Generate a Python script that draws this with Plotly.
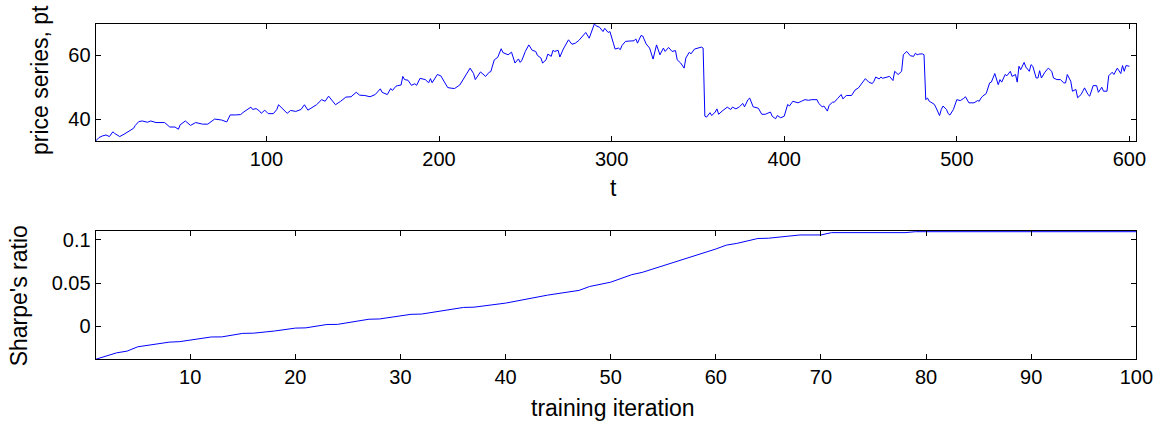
import plotly.graph_objects as go

# ---- data: price series (top panel) ----
t = [1, 3, 5, 7, 9, 11, 12, 15, 18, 20, 22, 23, 24, 26, 28, 31, 33, 36, 41, 44, 47, 49, 50, 53, 56, 59, 63, 66, 70, 71, 74, 77, 79, 82, 85, 87,
     88, 91, 92, 94, 96, 97, 99, 101, 104, 106, 107, 109, 112, 114, 117, 120, 122, 124, 126, 129, 132, 134, 136, 140, 143, 146, 149, 152, 154, 157, 160, 163, 166, 167, 170, 172,
     173, 175, 176, 178, 179, 180, 182, 184, 186, 187, 189, 192, 194, 195, 196, 199, 201, 203, 205, 207, 209, 212, 214, 216, 218, 220, 221, 224, 227, 229, 230, 232, 234, 236, 237, 240, 242, 244, 246, 247, 248, 250, 252, 254, 256, 257,
     259, 260, 262, 263, 265, 266, 267, 269, 270, 272, 275, 277, 279, 281, 283, 285, 287, 290, 291, 293, 295, 296, 298, 299, 301, 302, 304, 305, 306, 308, 310, 313, 314, 315, 317, 318, 320, 322, 324, 326, 328, 330, 331, 333, 335, 337, 338, 340, 342, 343,
     345, 346, 348, 350, 352, 353, 354, 355, 357, 358, 360, 361, 362, 364, 365, 367, 369, 370, 372, 374, 376, 377, 379, 380, 382, 385, 387, 389, 392, 393, 395, 396, 398, 400, 402, 403, 405, 407, 408, 410, 412, 414, 416, 419, 420, 422, 423, 425, 426, 428,
     429, 431, 433, 434, 436, 439, 441, 443, 445, 447, 449, 451, 452, 453, 455, 456, 457, 459, 461, 463, 464, 466, 468, 469, 471, 473, 475, 476, 477, 478, 480, 481, 482, 483, 484, 485, 487, 488, 490, 491, 492, 494, 495, 496, 498, 500, 502, 504, 505, 507, 510, 512, 513, 514,
     515, 517, 519, 520, 522, 524, 525, 526, 528, 529, 531, 532, 534, 535, 536, 537, 539, 540, 542, 543, 544, 546, 547, 548, 549, 551, 553, 555, 556, 558, 560, 562, 563, 564, 566, 567, 569, 570, 572, 573, 574, 576, 577, 579, 581, 582, 584, 585, 587, 588, 590, 591, 593, 595, 596, 597, 598, 600]
price = [33.1, 34.2, 34.7, 35.0, 34.5, 36.0, 35.5, 34.5, 35.4, 36.1, 36.8, 37.1, 38.0, 39.2, 39.4, 39.0, 39.4, 38.9, 38.9, 37.5, 37.5, 36.8, 38.2, 39.4, 38.0, 38.9, 38.4, 38.4, 40.0, 39.9, 39.7, 39.1, 41.3, 41.3, 41.4, 42.3,
         42.6, 43.75, 43.0, 43.3, 42.5, 41.8, 42.8, 41.7, 41.7, 43.0, 44.5, 43.4, 41.8, 42.7, 42.4, 43.0, 44.5, 42.8, 43.4, 44.5, 46.1, 45.6, 47.2, 44.5, 45.6, 46.9, 47.0, 48.4, 47.5, 47.4, 47.0, 47.7, 49.5, 48.4, 47.7, 49.6,
         49.0, 50.3, 50.5, 50.7, 53.4, 52.4, 52.2, 50.6, 51.1, 50.6, 52.8, 52.4, 51.4, 52.7, 51.4, 54.0, 53.6, 51.9, 49.9, 49.7, 49.6, 50.7, 52.4, 54.5, 56.0, 54.3, 52.4, 54.8, 53.4, 54.7, 54.9, 58.6, 59.4, 62.1, 60.9, 60.2, 61.0, 57.6, 58.9, 57.8, 58.5, 61.25, 63.3, 61.6, 61.25, 60.0,
         59.2, 57.6, 58.6, 60.4, 59.7, 61.6, 61.25, 61.6, 59.5, 62.0, 64.9, 63.5, 63.85, 64.7, 66.1, 67.2, 65.4, 69.9, 69.3, 68.85, 67.5, 68.5, 67.2, 67.5, 63.85, 62.0, 62.3, 61.8, 63.1, 64.4, 64.5, 64.6, 65.2, 63.85, 66.25, 66.1, 63.6, 62.3, 58.85, 63.3, 60.2, 62.3, 61.25, 62.5, 61.25, 61.5, 58.6, 57.6, 56.0, 59.2,
         61.0, 60.5, 62.0, 62.3, 62.6, 62.3, 40.9, 40.6, 42.0, 41.1, 42.2, 43.2, 41.5, 42.5, 43.0, 43.75, 43.0, 43.75, 43.2, 43.85, 44.9, 43.85, 46.1, 46.6, 43.85, 43.4, 41.5, 41.5, 42.2, 40.9, 40.1, 41.1, 40.4, 40.9, 44.6, 44.1, 45.6, 45.1, 45.1, 45.6, 46.1, 45.9, 46.1, 46.1, 44.9, 43.85, 44.1, 42.5, 44.3, 45.3,
         45.3, 46.5, 47.7, 46.35, 47.4, 47.4, 49.1, 49.8, 51.35, 52.7, 51.6, 51.15, 51.9, 53.2, 52.6, 53.2, 52.8, 53.2, 53.4, 52.1, 55.0, 54.0, 55.0, 60.2, 61.25, 59.9, 59.7, 60.7, 60.2, 60.4, 60.5, 60.2, 46.1, 46.6, 45.6, 45.3, 44.6, 43.5, 41.1, 43.0, 44.1, 43.0, 41.7, 41.25, 43.0, 46.1, 45.8, 46.5, 47.0, 45.1, 45.1, 45.8, 45.6, 46.6,
         47.2, 48.0, 51.35, 51.6, 54.3, 50.8, 52.4, 51.6, 54.0, 53.6, 55.0, 53.4, 54.0, 51.6, 56.6, 55.5, 57.8, 56.35, 55.0, 57.1, 56.6, 52.9, 52.9, 55.2, 52.9, 54.7, 56.0, 55.0, 52.9, 52.4, 52.4, 51.35, 51.35, 54.0, 51.9, 48.75, 49.3, 46.7, 47.7, 48.75, 49.8, 47.7, 47.2, 50.5, 50.5, 48.4, 50.0, 48.75, 48.75, 53.6, 54.7, 54.0, 56.0, 54.3, 56.8, 55.0, 56.8, 56.6]

# ---- data: Sharpe's ratio per training iteration (bottom panel) ----
iteration = [1, 3, 4, 5, 8, 9, 12, 13, 15, 16, 18, 20, 21, 23, 24, 27, 28, 31, 32, 36, 37, 40, 44, 46, 47, 48, 50, 52, 53, 60, 61, 62, 64, 65, 67, 68, 70, 71, 78, 79, 100]
sharpe = [-0.0385, -0.031, -0.029, -0.024, -0.0186, -0.018, -0.0126, -0.0125, -0.0084, -0.0082, -0.0057, -0.0023, -0.002, 0.0019, 0.002,
          0.008, 0.0083, 0.0137, 0.014, 0.0217, 0.022, 0.0267, 0.036, 0.040, 0.0415, 0.046, 0.051, 0.0597, 0.0624, 0.0895, 0.094, 0.096,
          0.1017, 0.102, 0.1043, 0.1058, 0.1058, 0.1085, 0.1085, 0.1096, 0.1096]

top_xticks = [100, 200, 300, 400, 500, 600]
top_yticks = [40, 60]
bot_xticks = [10, 20, 30, 40, 50, 60, 70, 80, 90, 100]
bot_yticks = [0, 0.05, 0.1]
bot_yticktext = ["0", "0.05", "0.1"]

W, H = 1175, 423
FONT = "Arial, Liberation Sans, Helvetica, sans-serif"

fig = go.Figure()
fig.add_trace(go.Scatter(x=t, y=price, mode="lines", line=dict(color="#0000ff", width=1),
                         xaxis="x", yaxis="y", showlegend=False))
fig.add_trace(go.Scatter(x=iteration, y=sharpe, mode="lines", line=dict(color="#0000ff", width=1),
                         xaxis="x2", yaxis="y2", showlegend=False))

def px_x(p):
    return p / W

def px_y(p):
    return 1 - p / H

axis_common = dict(showline=True, linecolor="black", linewidth=1, mirror="ticks", ticks="inside",
                   ticklen=5, tickcolor="black", showgrid=False, zeroline=False,
                   tickfont=dict(family=FONT, size=20, color="black"))

xdom = [px_x(97), px_x(1153)]
fig.update_layout(
    width=W, height=H, autosize=False, margin=dict(l=0, r=0, t=0, b=0),
    paper_bgcolor="white", plot_bgcolor="white",
    xaxis=dict(domain=xdom, range=[1, 604], tickvals=top_xticks, anchor="y", **axis_common),
    yaxis=dict(domain=[px_y(140), px_y(22)], range=[33.0, 69.9], tickvals=top_yticks, anchor="x", **axis_common),
    xaxis2=dict(domain=xdom, range=[1, 100], tickvals=bot_xticks, anchor="y2", **axis_common),
    yaxis2=dict(domain=[px_y(359), px_y(230)], range=[-0.0385, 0.1105], tickvals=bot_yticks,
                ticktext=bot_yticktext, anchor="x2", **axis_common),
    annotations=[
        dict(text="price series, pt", x=px_x(40), y=px_y(78), xref="paper", yref="paper", textangle=-90,
             showarrow=False, font=dict(family=FONT, size=23, color="black"), xanchor="center", yanchor="middle"),
        dict(text="t", x=px_x(622), y=px_y(187), xref="paper", yref="paper",
             showarrow=False, font=dict(family=FONT, size=23, color="black"), xanchor="center", yanchor="middle"),
        dict(text="Sharpe's ratio", x=px_x(19), y=px_y(295), xref="paper", yref="paper", textangle=-90,
             showarrow=False, font=dict(family=FONT, size=23, color="black"), xanchor="center", yanchor="middle"),
        dict(text="training iteration", x=px_x(622), y=px_y(408), xref="paper", yref="paper",
             showarrow=False, font=dict(family=FONT, size=23, color="black"), xanchor="center", yanchor="middle"),
    ],
)

fig.write_html(
    "out.html",
    config={"responsive": False, "displayModeBar": False},
    post_script=("document.body.style.margin='0';document.body.style.overflow='hidden';"
                 "var gd=document.getElementById('{plot_id}');"
                 "Plotly.relayout(gd,{width:1175,height:423,autosize:false});"),
)
